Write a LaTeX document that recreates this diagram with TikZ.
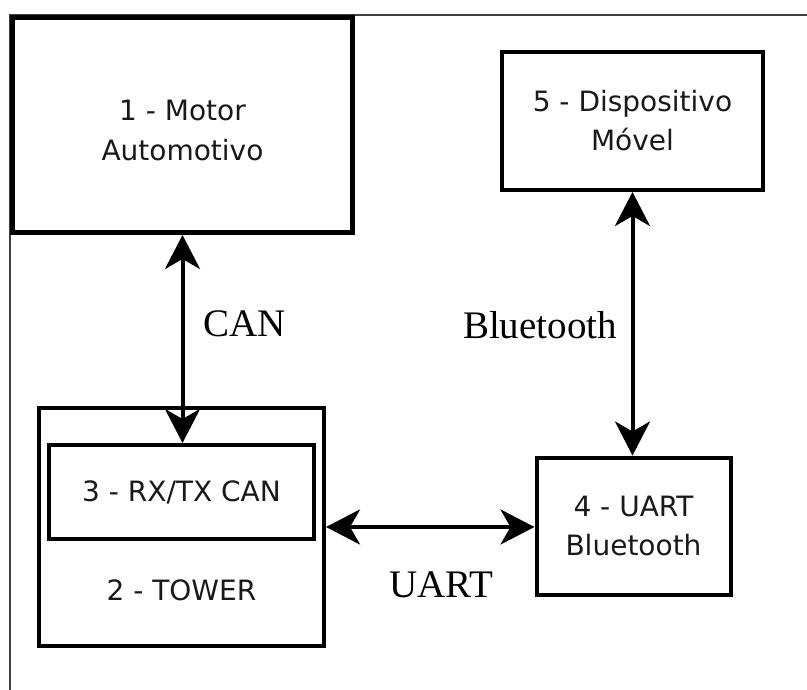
\documentclass[tikz,border=0pt]{standalone}
\usepackage{fontspec}
\setmainfont{DejaVu Sans}
\newfontfamily\labelfont{Liberation Serif}
\usetikzlibrary{arrows.meta}
\begin{document}
\begin{tikzpicture}[x=1pt,y=-1pt,
  box/.style={draw=black, line width=4pt, inner sep=0pt, align=center,
    font=\fontsize{28}{39}\selectfont, text=black!90},
  boxtext/.style={inner sep=0pt, align=center, font=\fontsize{28}{40}\selectfont, text=black!90},
  lab/.style={font=\labelfont\fontsize{39}{44}\selectfont, inner sep=0pt, text=black},
  link/.style={line width=4pt, {Stealth[length=34pt,width=35pt,inset=10pt]}-{Stealth[length=34pt,width=35pt,inset=10pt]}},
  frame/.style={line width=1.5pt, draw=black!75}]
\useasboundingbox (0,0) rectangle (807,690);
% frame lines
\coordinate (fbl) at (10,690);
\coordinate (ftl) at (10,15);
\coordinate (ftr) at (807,15);
\draw[frame] (fbl) -- (ftl) -- (ftr);
% boxes
\node[box, line width=5pt, minimum width=340pt, minimum height=215pt] (b1) at (182.5,125) {};
\node[boxtext] (b1t) at (182.5,130) {1 - Motor\\Automotivo};
\node[box, minimum width=261pt, minimum height=138pt] (b5) at (632.5,121)
  {5 - Dispositivo\\Móvel};
\node[box, minimum width=285pt, minimum height=238pt] (b2) at (181.5,527) {};
\node[boxtext] (b2t) at (181.5,590) {2 - TOWER};
\node[box, minimum width=265pt, minimum height=94pt] (b3) at (181.5,492) {3 - RX/TX CAN};
\node[box, minimum width=194pt, minimum height=137pt] (b4) at (633.5,526) {4 - UART\\Bluetooth};
% connectors
\draw[link] (b1.south) -- (b1.south |- b3.north);
\draw[link] (b5.south) -- (b5.south |- b4.north);
\draw[link] (b2.east) -- (b2.east -| b4.west);
% labels
\node[lab] (lcan) at (244.5,324) {CAN};
\node[lab] (lbt) at (540,325) {Bluetooth};
\node[lab] (luart) at (441.5,585) {UART};
\end{tikzpicture}
\end{document}
